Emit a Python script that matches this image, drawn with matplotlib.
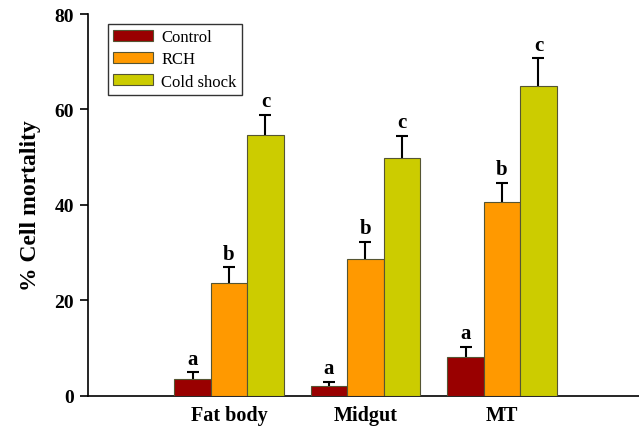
import matplotlib
matplotlib.use("Agg")
import matplotlib.pyplot as plt
import numpy as np

tissues = ["Fat body", "Midgut", "MT"]
series = ["Control", "RCH", "Cold shock"]
control = [3.4, 2.0, 8.1]
rch = [23.7, 28.6, 40.5]
cold = [54.7, 49.8, 64.9]
control_err = [1.5, 0.9, 2.1]
rch_err = [3.2, 3.6, 4.1]
cold_err = [4.1, 4.6, 5.8]
letters = [["a", "a", "a"], ["b", "b", "b"], ["c", "c", "c"]]
colors = ["#990000", "#FF9900", "#CCCC00"]

plt.rcParams['font.family'] = ['Liberation Serif', 'DejaVu Serif']

fig = plt.figure(figsize=(6.39, 4.27), dpi=100)
ax = fig.add_axes([88/639, 1-396.7/427, 1-88/639, (396.7-15)/427])

x = np.arange(len(tissues))
w = 0.267
vals = [control, rch, cold]
errs = [control_err, rch_err, cold_err]
for i, (v, e, c, name) in enumerate(zip(vals, errs, colors, series)):
    pos = x + (i - 1) * w
    ax.bar(pos, v, width=w, color=c, edgecolor="#555533", linewidth=0.8, label=name, zorder=3)
    ax.errorbar(pos, v, yerr=e, fmt="none", ecolor="black",
                elinewidth=1.5, capsize=4, capthick=1.5, zorder=2)
    for p, vv, ee, lt in zip(pos, v, e, letters[i]):
        ax.text(p, vv + ee + 0.8, lt, ha="center", va="bottom", fontsize=15, fontweight="bold")

ax.set_xlim(-1.033, 3.004)
ax.set_ylim(0, 80)
ax.set_yticks([0, 20, 40, 60, 80])
ax.set_xticks(x)
ax.set_xticklabels(tissues, fontsize=14.5, fontweight="bold")
ax.tick_params(axis="x", length=0, pad=7)
ax.tick_params(axis="y", length=6, width=1.2, labelsize=14, pad=4)
for lab in ax.get_yticklabels():
    lab.set_fontweight("bold")
ax.spines["top"].set_visible(False)
ax.spines["right"].set_visible(False)
ax.spines["left"].set_linewidth(1.2)
ax.spines["bottom"].set_linewidth(1.2)
ax.set_ylabel("% Cell mortality", fontsize=17, fontweight="bold", labelpad=10)

leg = ax.legend(loc="upper left", bbox_to_anchor=(108/639, 1-25/427), bbox_transform=fig.transFigure,
                borderaxespad=0, fontsize=12, handlelength=2.4, handleheight=0.66,
                frameon=True, fancybox=False, edgecolor="black", labelspacing=0.38,
                borderpad=0.3, handletextpad=0.5)
leg.get_frame().set_linewidth(1.0)

fig.savefig("out.png", dpi=100)
